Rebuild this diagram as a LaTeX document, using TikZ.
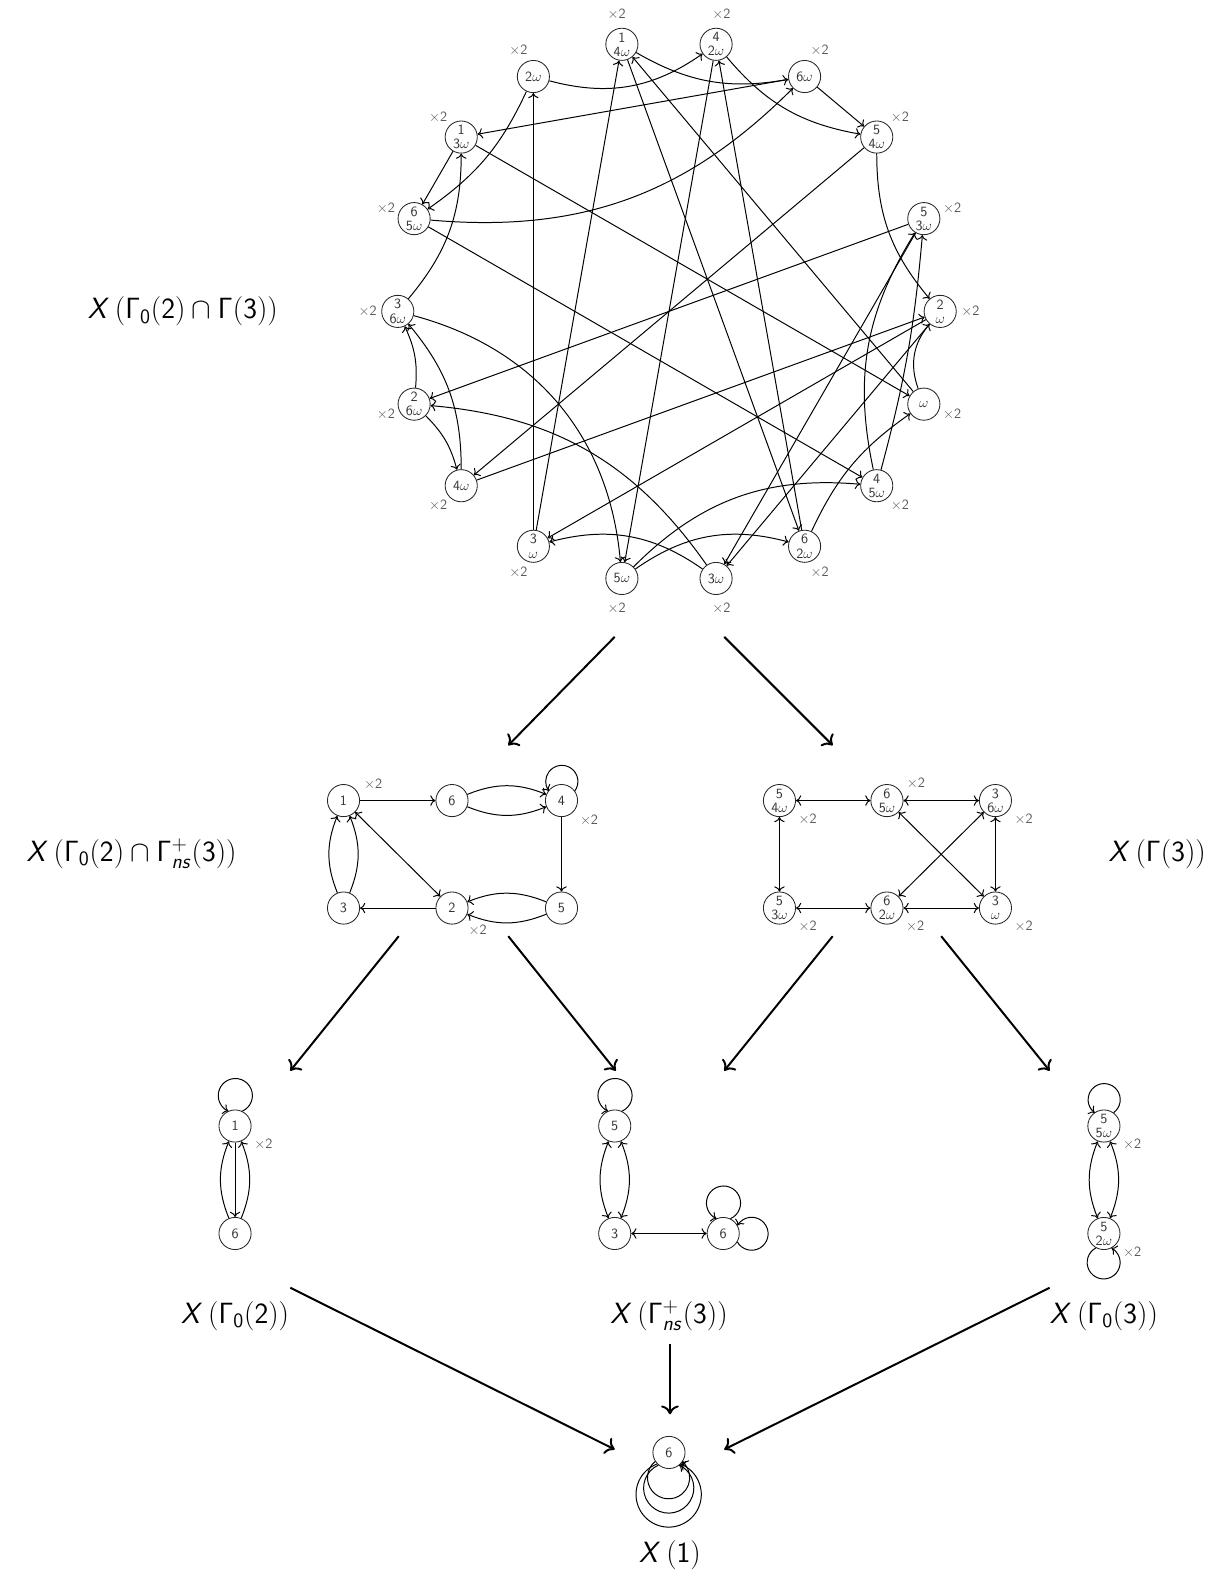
\documentclass[tikz,border=0pt]{standalone}
\usetikzlibrary{arrows.meta}
\DeclareMathAlphabet{\mathsfsl}{OT1}{cmss}{m}{sl}
\newcommand{\Xc}{\mathsfsl{X}}
\tikzset{
  vtx/.style={circle,draw=black!85,line width=.6pt,minimum size=.8cm,inner sep=0pt,align=center,text=black!80,font=\fontsize{10}{10}\selectfont\sffamily},
  xlab/.style={text=black!65,font=\fontsize{10}{10}\selectfont\sffamily},
  gname/.style={font=\fontsize{20}{24}\selectfont\sffamily},
  link/.style={line width=.7pt,-{To[length=1.3mm,width=2.6mm]}},
  dlink/.style={line width=.7pt,{To[length=1.3mm,width=2.6mm]}-{To[length=1.3mm,width=2.6mm]}},
  mapto/.style={line width=1.4pt,-{To[length=2.2mm,width=4.4mm]}}
}
\begin{document}
\begin{tikzpicture}[x=0.025cm,y=-0.025cm]
\useasboundingbox (0,0) rectangle (1212,1568);

% X(Gamma_0(2) cap Gamma(3))
\begin{scope}[shift={(666,310)}]
\foreach \a/\nm/\txt in {0/p2q1/{2\\$\omega$},20/p5q3/{5\\3$\omega$},40/p5q4/{5\\4$\omega$},60/q6/{6$\omega$},80/p4q2/{4\\2$\omega$},100/p1q4/{1\\4$\omega$},120/q2/{2$\omega$},140/p1q3/{1\\3$\omega$},160/p6q5/{6\\5$\omega$},180/p3q6/{3\\6$\omega$},200/p2q6/{2\\6$\omega$},220/q4/{4$\omega$},240/p3q1/{3\\$\omega$},260/q5/{5$\omega$},280/q3/{3$\omega$},300/p6q2/{6\\2$\omega$},320/p4q5/{4\\5$\omega$},340/q1/{$\omega$}}{
  \node[vtx] (\nm) at (-\a:270) {\txt};
  \node[xlab] (\nm-m) at (-\a:300) {$\times$2};
}
\end{scope}
\foreach \s/\t in {q6/p1q3,q6/p5q4,p5q4/q4,p1q3/p6q5,p1q3/q1,p6q5/p4q5,p3q1/q2,p3q1/p1q4,p6q2/p4q2,p1q4/p6q2,q1/p1q4,p4q2/q5,p5q3/p2q6,p5q3/q3,p2q1/q3,p2q1/p3q1,q4/p2q1}
  \draw[link] (\s) -- (\t);
\foreach \s/\t/\b in {q2/p4q2/25,p1q4/q6/20,p4q2/p5q4/20,p5q4/p2q1/20,p6q5/q6/25,p3q6/p1q3/20,p2q6/p3q6/15,q4/p3q6/20,q3/p3q1/25,q3/p2q6/25,p4q5/p5q3/5}
  \draw[link] (\s) to[bend right=\b] (\t);
\foreach \s/\t/\b in {q2/p6q5/15,p3q6/q5/35,p2q6/q4/15,q5/p6q2/25,q5/p4q5/25,p6q2/q1/15,p4q5/p5q3/22,q1/p2q1/30}
  \draw[link] (\s) to[bend left=\b] (\t);
\node[gname] (lab-top) at (182,310) {$\Xc\left(\mathsf{\Gamma_0(2)}\cap\mathsf{\Gamma(3)}\right)$};

% X(Gamma_0(2) cap Gamma_ns^+(3))
\node[vtx,label={[xlab]20:$\times$2}] (n1) at (342,797) {1};
\node[vtx] (n6) at (450,797) {6};
\node[vtx,label={[xlab]-35:$\times$2}] (n4) at (559,797) {4};
\node[vtx] (n3) at (342,904) {3};
\node[vtx,label={[xlab]-45:$\times$2}] (n2) at (450,904) {2};
\node[vtx] (n5) at (559,904) {5};
\draw[link] (n1) -- (n6);
\draw[link] (n6) to[bend left=22] (n4);
\draw[link] (n6) to[bend right=22] (n4);
\draw[link] (n4.36) arc[start angle=-36,end angle=216,radius=.4cm];
\draw[link] (n4) -- (n5);
\draw[link] (n5) to[bend left=22] (n2);
\draw[link] (n5) to[bend right=22] (n2);
\draw[link] (n2) -- (n3);
\draw[link] (n3) to[bend left=22] (n1);
\draw[link] (n3) to[bend right=22] (n1);
\draw[dlink] (n1) -- (n2);
\node[gname] (lab-nsl) at (131,850) {$\Xc\left(\mathsf{\Gamma_0(2)}\cap\mathsf{\Gamma^+_{\mathsfsl{ns}}(3)}\right)$};

% X(Gamma(3))
\node[vtx,label={[xlab]-30:$\times$2}] (g54) at (776,797) {5\\4$\omega$};
\node[vtx,label={[xlab]25:$\times$2}] (g65) at (883,797) {6\\5$\omega$};
\node[vtx,label={[xlab]-30:$\times$2}] (g36) at (991,797) {3\\6$\omega$};
\node[vtx,label={[xlab]-30:$\times$2}] (g53) at (776,904) {5\\3$\omega$};
\node[vtx,label={[xlab]-30:$\times$2}] (g62) at (883,904) {6\\2$\omega$};
\node[vtx,label={[xlab]-30:$\times$2}] (g31) at (991,904) {3\\$\omega$};
\foreach \s/\t in {g54/g65,g65/g36,g54/g53,g53/g62,g62/g31,g36/g31,g65/g31,g36/g62}
  \draw[dlink] (\s) -- (\t);
\node[gname] (lab-g3) at (1152,850) {$\Xc\left(\mathsf{\Gamma(3)}\right)$};

% X(Gamma_0(2))
\node[vtx,label={[xlab]-30:$\times$2}] (b1) at (234,1121) {1};
\node[vtx] (b6) at (234,1228) {6};
\draw[link] (b1.64) arc[start angle=-66,end angle=246,radius=.425cm];
\draw[link] (b6) to[bend left=22] (b1);
\draw[link] (b1) -- (b6);
\draw[link] (b6) to[bend right=22] (b1);
\node[gname] (lab-g02) at (234,1310) {$\Xc\left(\mathsf{\Gamma_0(2)}\right)$};

% X(Gamma_ns^+(3))
\node[vtx] (c5) at (612,1121) {5};
\node[vtx] (c3) at (612,1228) {3};
\node[vtx] (c6) at (720,1228) {6};
\draw[link] (c5.64) arc[start angle=-66,end angle=246,radius=.425cm];
\draw[dlink] (c3) to[bend left=22] (c5);
\draw[dlink] (c3) to[bend right=22] (c5);
\draw[dlink] (c3) -- (c6);
\draw[link] (c6.64) arc[start angle=-66,end angle=246,radius=.425cm];
\draw[link] (c6.-31) arc[start angle=210,end angle=510,radius=.41cm];
\node[gname] (lab-ns) at (666,1310) {$\Xc\left(\mathsf{\Gamma^+_{\mathsfsl{ns}}(3)}\right)$};

% X(Gamma_0(3))
\node[vtx,label={[xlab]-30:$\times$2}] (d55) at (1099,1121) {5\\5$\omega$};
\node[vtx,label={[xlab]-30:$\times$2}] (d52) at (1099,1228) {5\\2$\omega$};
\draw[link] (d55.54) arc[start angle=-54,end angle=234,radius=.4cm];
\draw[dlink] (d52) to[bend left=22] (d55);
\draw[dlink] (d52) to[bend right=22] (d55);
\draw[link] (d52.241) arc[start angle=118,end angle=422,radius=.41cm];
\node[gname] (lab-g03) at (1099,1310) {$\Xc\left(\mathsf{\Gamma_0(3)}\right)$};

% X(1)
\node[vtx] (j6) at (666,1446) {6};
\draw[link] (j6.213) arc[start angle=129.6,end angle=410.4,radius=.525cm];
\draw[link] (j6.230) arc[start angle=114.3,end angle=425.7,radius=.625cm];
\draw[link] (j6.224) arc[start angle=110.7,end angle=429.3,radius=.8125cm];
\node[gname] (lab-one) at (667,1548) {$\Xc\left(\mathsf{1}\right)$};

% maps between the curves
\coordinate (topL) at (612,634);   \coordinate (midL) at (506,742);
\coordinate (topR) at (721,634);   \coordinate (midR) at (829,742);
\coordinate (nsA) at (397,932);    \coordinate (g02in) at (289,1066);
\coordinate (nsB) at (506,932);    \coordinate (nsin) at (613,1066);
\coordinate (g3A) at (829,932);    \coordinate (nsin2) at (721,1066);
\coordinate (g3B) at (937,932);    \coordinate (g03in) at (1045,1066);
\coordinate (g02out) at (289,1282); \coordinate (oneL) at (612,1443);
\coordinate (nsout) at (667,1338);  \coordinate (oneT) at (667,1408);
\coordinate (g03out) at (1045,1282); \coordinate (oneR) at (721,1443);
\foreach \a/\b in {topL/midL,topR/midR,nsA/g02in,nsB/nsin,g3A/nsin2,g3B/g03in,g02out/oneL,nsout/oneT,g03out/oneR}
  \draw[mapto] (\a) -- (\b);
\end{tikzpicture}
\end{document}
